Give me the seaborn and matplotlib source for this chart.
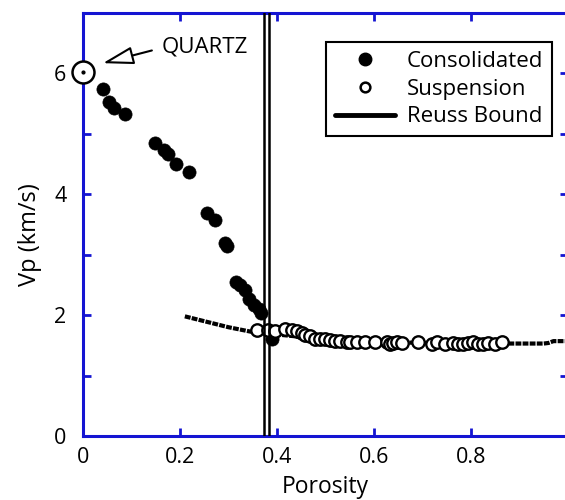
import numpy as np
import pandas as pd
import matplotlib
matplotlib.use("Agg")
import matplotlib.pyplot as plt
from matplotlib.lines import Line2D
import seaborn as sns

# Consolidated sandstones (porosity, Vp km/s)
cons_phi = [0.042, 0.054, 0.064, 0.087, 0.148, 0.168, 0.176, 0.192, 0.219,
            0.256, 0.272, 0.293, 0.297, 0.315, 0.323, 0.333, 0.342, 0.352,
            0.362, 0.368, 0.389]
cons_vp = [5.74, 5.53, 5.43, 5.33, 4.85, 4.73, 4.66, 4.50, 4.37,
           3.69, 3.58, 3.20, 3.15, 2.55, 2.50, 2.42, 2.27, 2.17,
           2.10, 2.04, 1.60]

# Suspensions (porosity, Vp km/s)
susp_phi = [0.359, 0.381, 0.396, 0.416, 0.431, 0.441, 0.452, 0.458, 0.468,
            0.478, 0.489, 0.499, 0.509, 0.520, 0.530, 0.544, 0.551, 0.565,
            0.581, 0.602, 0.627, 0.633, 0.639, 0.647, 0.658, 0.690, 0.719,
            0.730, 0.746, 0.763, 0.773, 0.783, 0.794, 0.804, 0.814, 0.825,
            0.835, 0.849, 0.864]
susp_vp = [1.75, 1.75, 1.74, 1.77, 1.75, 1.74, 1.70, 1.67, 1.65,
           1.61, 1.61, 1.60, 1.59, 1.58, 1.58, 1.56, 1.56, 1.56,
           1.55, 1.55, 1.55, 1.53, 1.54, 1.55, 1.54, 1.55, 1.53,
           1.55, 1.52, 1.54, 1.53, 1.52, 1.54, 1.55, 1.53, 1.52,
           1.54, 1.53, 1.55]

# Reuss lower bound for quartz/water mixtures
reuss_phi = [0.21, 0.25, 0.30, 0.35, 0.40, 0.50, 0.60, 0.70, 0.80,
             0.86, 0.90, 0.95, 0.96, 0.97, 1.00]
reuss_vp = [1.98, 1.90, 1.80, 1.72, 1.68, 1.60, 1.56, 1.54, 1.53,
            1.53, 1.53, 1.53, 1.54, 1.57, 1.57]

# Pure quartz end member
quartz_phi = [0.0]
quartz_vp = [6.02]

# Critical porosity band
crit_phi = [0.373, 0.383]

x_ticks = [0, 0.2, 0.4, 0.6, 0.8, 1.0]
x_ticklabels = ["0", "0.2", "0.4", "0.6", "0.8", "1"]
y_ticks = [0, 2, 4, 6]
y_minor = [1, 3, 5]

sns.set_style("ticks")
plt.rcParams["font.family"] = ["Open Sans", "DejaVu Sans"]
plt.rcParams["text.color"] = "black"
plt.rcParams["axes.labelcolor"] = "black"

AXC = "#1414d2"
FS = 15.5

fig = plt.figure(figsize=(5.65, 5.00), dpi=100)
ax = fig.add_axes([83 / 565, 1 - 436 / 500, 485 / 565, 423 / 500])

cons = pd.DataFrame({"phi": cons_phi, "vp": cons_vp})
susp = pd.DataFrame({"phi": susp_phi, "vp": susp_vp})
reuss = pd.DataFrame({"phi": reuss_phi, "vp": reuss_vp})

sns.lineplot(data=reuss, x="phi", y="vp", ax=ax, color="black", lw=3.0,
             linestyle=(0, (1.4, 0.3)), sort=False, estimator=None, zorder=2)
sns.scatterplot(data=cons, x="phi", y="vp", ax=ax, color="black", s=90,
                edgecolor="black", linewidth=0.5, zorder=3)
sns.scatterplot(data=susp, x="phi", y="vp", ax=ax, facecolor="white",
                edgecolor="black", s=80, linewidth=1.7, zorder=4)

for xv in crit_phi:
    ax.axvline(xv, color="black", lw=1.8, zorder=5)

# Quartz point: open circle with a centre dot
ax.scatter(quartz_phi, quartz_vp, s=250, facecolor="white", edgecolor="black",
           linewidth=1.8, zorder=6, clip_on=False)
ax.scatter(quartz_phi, quartz_vp, s=4, color="black", zorder=7, clip_on=False)
ax.annotate("", xy=(0.041, 6.17), xytext=(0.142, 6.38),
            arrowprops=dict(arrowstyle="-|>,head_length=1.9,head_width=0.55",
                            fc="white", ec="black", lw=1.5,
                            shrinkA=0, shrinkB=0))
ax.text(0.163, 6.43, "QUARTZ", fontsize=16, ha="left", va="center")

ax.set_xlim(0, 1)
ax.set_ylim(0, 7)
ax.set_xticks(x_ticks)
ax.set_xticklabels(x_ticklabels)
ax.set_yticks(y_ticks)
ax.set_yticks(y_minor, minor=True)
ax.set_xlabel("Porosity", fontsize=16.5, labelpad=5)
ax.set_ylabel("Vp (km/s)", fontsize=17)
ax.yaxis.set_label_coords(-0.085, 0.475)

for side in ["left", "right", "top", "bottom"]:
    ax.spines[side].set_visible(True)
    ax.spines[side].set_color(AXC)
    ax.spines[side].set_linewidth(2.2)
ax.tick_params(which="both", direction="in", length=6, width=2, color=AXC,
               top=True, right=True, labelsize=FS, labelcolor="black")
ax.tick_params(axis="x", pad=8)
ax.tick_params(axis="y", pad=12)

handles = [
    Line2D([], [], marker="o", ls="none", color="black", markersize=9),
    Line2D([], [], marker="o", ls="none", mfc="white", mec="black",
           markersize=7, mew=1.8),
    Line2D([], [], color="black", lw=3.5),
]
labels = ["Consolidated", "Suspension", "Reuss Bound"]
leg = ax.legend(handles, labels, loc="upper right",
                bbox_to_anchor=(0.967, 0.931), borderaxespad=0,
                fontsize=16, frameon=True, fancybox=False,
                edgecolor="black", framealpha=1, handlelength=2.7,
                handletextpad=0.55, labelspacing=0.3, borderpad=0.4)
leg.get_frame().set_linewidth(1.5)

fig.savefig("out.png", dpi=100)
